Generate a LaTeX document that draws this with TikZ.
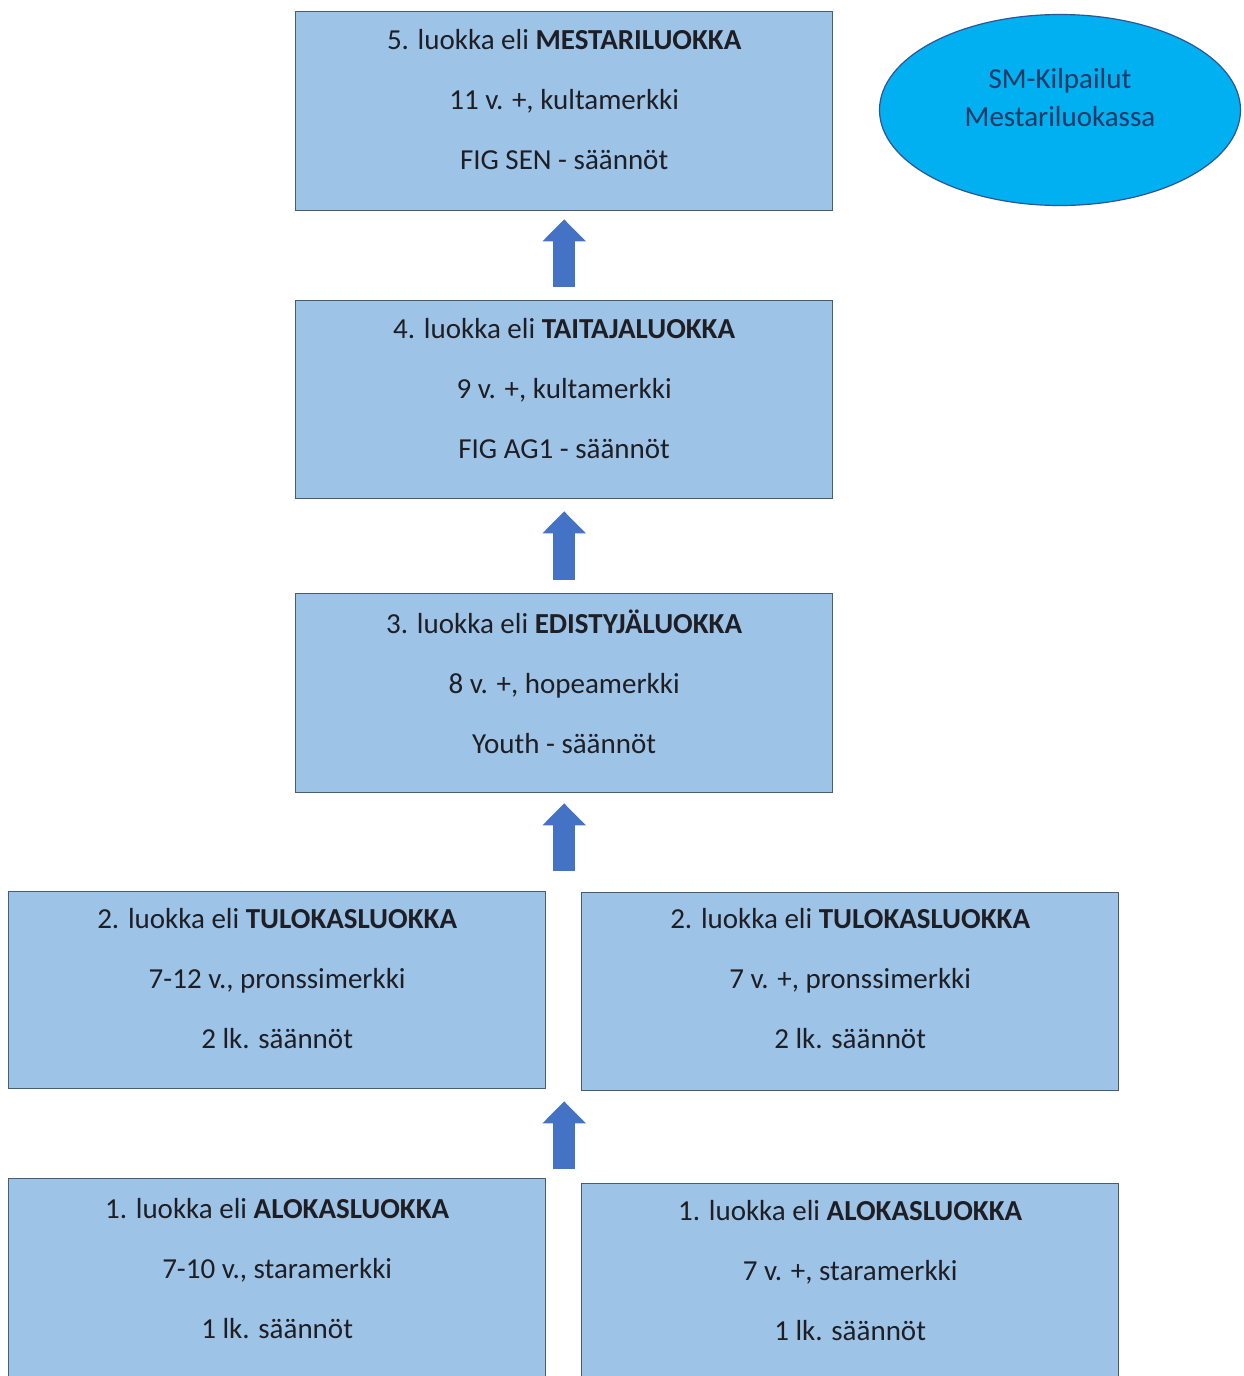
\documentclass[tikz,border=0pt]{standalone}
\usepackage{fontspec}
\setmainfont{Carlito}
\usetikzlibrary{arrows.meta,calc,shapes.geometric}
\definecolor{boxfill}{HTML}{9DC3E6}
\definecolor{boxline}{HTML}{4A5C70}
\definecolor{txt}{HTML}{1E1E24}
\definecolor{ellfill}{HTML}{00B0F0}
\definecolor{ellline}{HTML}{2F5597}
\definecolor{elltxt}{HTML}{1F3864}
\definecolor{arrfill}{HTML}{4472C4}
\tikzset{
  levelbox/.style={draw=boxline, fill=boxfill, line width=1.3pt, minimum width=537pt, inner sep=0pt, anchor=north west},
  boxtext/.style={text=txt, font=\fontsize{29}{60}\selectfont, align=center, anchor=north, inner sep=0pt},
  uparrow/.style={draw=arrfill, line width=22pt, -{Triangle[width=42pt,length=22pt]}},
}
\begin{document}
\begin{tikzpicture}[x=1pt,y=-1pt]
\useasboundingbox (0,0) rectangle (1243,1376);
\clip (0,0) rectangle (1243,1376);
\fill[white] (0,0) rectangle (1243,1376);

% boxes
\node[levelbox, minimum height=199pt] (b5) at (295,11) {};
\node[levelbox, minimum height=198pt] (b4) at (295,300) {};
\node[levelbox, minimum height=199pt] (b3) at (295,593) {};
\node[levelbox, minimum height=197pt] (b2l) at (8,891) {};
\node[levelbox, minimum height=198pt] (b2r) at (581,892) {};
\node[levelbox, minimum height=240pt] (b1l) at (8,1178) {};
\node[levelbox, minimum height=240pt] (b1r) at (581,1183) {};

% texts
\node[boxtext] (t5) at ($(b5.north)+(0,18)$) {5. luokka eli \textbf{MESTARILUOKKA}\\11 v. +, kultamerkki\\FIG SEN - säännöt};
\node[boxtext] (t4) at ($(b4.north)+(0,18)$) {4. luokka eli \textbf{TAITAJALUOKKA}\\9 v. +, kultamerkki\\FIG AG1 - säännöt};
\node[boxtext] (t3) at ($(b3.north)+(0,17)$) {3. luokka eli \textbf{EDISTYJÄLUOKKA}\\8 v. +, hopeamerkki\\Youth - säännöt};
\node[boxtext] (t2l) at ($(b2l.north)+(0,17)$) {2. luokka eli \textbf{TULOKASLUOKKA}\\7-12 v., pronssimerkki\\2 lk. säännöt};
\node[boxtext] (t2r) at ($(b2r.north)+(0,16)$) {2. luokka eli \textbf{TULOKASLUOKKA}\\7 v. +, pronssimerkki\\2 lk. säännöt};
\node[boxtext] (t1l) at ($(b1l.north)+(0,20)$) {1. luokka eli \textbf{ALOKASLUOKKA}\\7-10 v., staramerkki\\1 lk. säännöt};
\node[boxtext] (t1r) at ($(b1r.north)+(0,17)$) {1. luokka eli \textbf{ALOKASLUOKKA}\\7 v. +, staramerkki\\1 lk. säännöt};

% ellipse
\node[ellipse, draw=ellline, fill=ellfill, line width=1.2pt, minimum width=361pt, minimum height=191pt, inner sep=0pt] (sm) at (1060,110) {};
\node[text=elltxt, font=\fontsize{29}{38}\selectfont, align=center, inner sep=0pt] (smt) at (1060,98) {SM-Kilpailut\\Mestariluokassa};

% arrows
\draw[uparrow] ($(b4.north)+(0,-13)$) -- ($(b5.south)+(0,8)$);
\draw[uparrow] ($(b3.north)+(0,-13)$) -- ($(b4.south)+(0,12)$);
\coordinate (base3) at ($(b3.south)+(0,78)$);
\draw[uparrow] (base3) -- ($(b3.south)+(0,10)$);
\coordinate (base1) at ($(b3.south)+(0,376)$);
\draw[uparrow] (base1) -- ($(b3.south)+(0,308)$);
\end{tikzpicture}
\end{document}
